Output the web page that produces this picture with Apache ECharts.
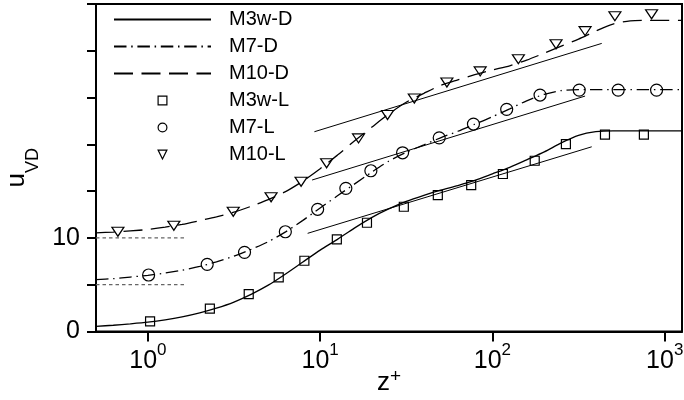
<!DOCTYPE html>
<html>
<head>
<meta charset="utf-8">
<script src="https://cdn.jsdelivr.net/npm/echarts@6/dist/echarts.min.js"></script>
<style>
  html, body { margin: 0; padding: 0; background: #fff; }
  #chart { width: 684px; height: 400px; }
</style>
</head>
<body>
<div id="chart"></div>
<script>
// Wall-unit velocity profiles (van Driest transformed), DNS curves and LES markers.
// M7 profiles are shifted up by 5, M10 profiles by 10.

// DNS profiles, sampled every tenth of a decade in z+
const zDNS = [0.5, 0.63, 0.79, 1, 1.26, 1.58, 2, 2.5, 3.16, 4, 5, 6.3, 7.9, 10, 12.6, 15.8, 20, 25, 31.6, 40,
              50, 63, 79, 100, 126, 158, 200, 251, 316, 398, 501, 631, 794, 1000, 1260];
const uM3wD = [0.55, 0.67, 0.82, 1.0, 1.25, 1.57, 2.0, 2.5, 3.15, 4.0, 4.95, 6.15, 7.4, 8.7, 9.85, 11.05, 12.2, 13.1, 13.9, 14.55,
               15.1, 15.6, 16.15, 16.85, 17.55, 18.35, 19.2, 20.15, 20.95, 21.35, 21.45, 21.45, 21.45, 21.45, 21.45];
const uM7D = [5.55, 5.65, 5.82, 6.0, 6.25, 6.55, 6.95, 7.45, 8.05, 8.8, 9.6, 10.65, 11.85, 13.2, 14.5, 15.75, 17.05, 18.2, 19.15, 19.95,
              20.7, 21.4, 22.15, 22.95, 23.8, 24.65, 25.35, 25.75, 25.85, 25.85, 25.85, 25.85, 25.85, 25.85, 25.85];
const uM10D = [10.55, 10.63, 10.75, 10.9, 11.15, 11.45, 11.85, 12.25, 12.75, 13.4, 14.1, 14.95, 16.05, 17.4, 18.85, 20.35, 21.85, 23.25, 24.5, 25.45,
               26.3, 26.9, 27.45, 27.95, 28.4, 29.0, 29.75, 30.5, 31.25, 32.1, 32.85, 33.2, 33.25, 33.25, 33.25];

// LES profiles
const zM3wL = [1.03, 2.29, 3.85, 5.75, 8.1, 12.5, 18.7, 30.6, 48.2, 75.3, 115, 176, 267, 450, 757];
const uM3wL = [1.09, 2.44, 4.0, 5.79, 7.56, 9.85, 11.62, 13.33, 14.58, 15.65, 16.83, 18.25, 20.03, 21.03, 21.03];

const zM7L = [1.01, 2.21, 3.64, 6.28, 9.67, 14.1, 19.7, 30.1, 49.1, 77.6, 121, 189, 319, 537, 897];
const uM7L = [6.04, 7.18, 8.46, 10.66, 13.06, 15.3, 17.18, 19.1, 20.7, 22.17, 23.74, 25.27, 25.8, 25.8, 25.8];

const zM10L = [0.67, 1.415, 3.13, 5.19, 7.75, 10.9, 16.7, 24.6, 35.2, 54.4, 84.9, 141.5, 234, 345, 514, 839];
const uM10L = [10.66, 11.3, 12.8, 14.34, 16.0, 17.97, 20.64, 23.13, 24.9, 26.6, 27.8, 29.1, 30.7, 32.1, 33.7, 33.9];

// Log-law reference segments (end points)
const zLogLaw = [[8.46, 377], [8.98, 345], [9.26, 431]];
const uLogLaw = [[10.49, 19.74], [16.19, 25.16], [21.35, 30.79]];

// Offset baselines for the shifted profiles
const offsetLevels = [5, 10];
const offsetSpan = [0.5, 1.64];

// Axis ticks and labels
const xTickValues = [1, 10, 100, 1000];
const yLabelValues = [0, 10];

const FONT = '"Liberation Sans", Arial, Helvetica, sans-serif';
const zip = (xs, ys) => xs.map((x, i) => [x, ys[i]]);

function dnsSeries(name, u, dash) {
  return {
    name, type: 'line', data: zip(zDNS, u),
    symbol: 'none', smooth: 0.25,
    lineStyle: { color: '#000', width: 1.3, type: dash },
    itemStyle: { color: '#000' },
    z: 3
  };
}

function lesSeries(name, z, u, symbol, size, rotate) {
  return {
    name, type: 'line', data: zip(z, u),
    symbol, symbolSize: size, symbolRotate: rotate || 0,
    showSymbol: true, showAllSymbol: true,
    lineStyle: { opacity: 0 },
    itemStyle: { color: 'rgba(0,0,0,0)', borderColor: '#000', borderWidth: 1.2 },
    z: 4
  };
}

const series = [
  dnsSeries('M3w-D', uM3wD, 'solid'),
  dnsSeries('M7-D', uM7D, [12.5, 4.7, 1.5, 4.7]),
  dnsSeries('M10-D', uM10D, [19, 8.5]),
  lesSeries('M3w-L', zM3wL, uM3wL, 'rect', 9),
  lesSeries('M7-L', zM7L, uM7L, 'circle', 12),
  lesSeries('M10-L', zM10L, uM10L, 'triangle', [12, 9], 180)
];

zLogLaw.forEach((zs, i) => {
  series.push({
    type: 'line', data: zip(zs, uLogLaw[i]), symbol: 'none',
    lineStyle: { color: '#000', width: 1 }, z: 2, silent: true
  });
});

offsetLevels.forEach(level => {
  series.push({
    type: 'line', data: offsetSpan.map(z => [z, level]), symbol: 'none',
    lineStyle: { color: '#666', width: 1.3, type: [3.5, 3] }, z: 2, silent: true
  });
});

const chart = echarts.init(document.getElementById('chart'), null, { renderer: 'canvas' });

chart.setOption({
  animation: false,
  backgroundColor: '#fff',
  textStyle: { fontFamily: FONT, color: '#000' },
  grid: {
    left: 96, right: 2, top: 4, bottom: 68.5,
    show: true, borderColor: '#000', borderWidth: 2,
    containLabel: false, outerBoundsMode: 'none'
  },
  legend: {
    orient: 'vertical', left: 113, top: 9.5, padding: 0,
    itemWidth: 97, itemHeight: 11, itemGap: 7,
    selectedMode: false,
    textStyle: { fontFamily: FONT, fontSize: 20, color: '#000', lineHeight: 19, padding: [0, 0, 0, 13] },
    itemStyle: { borderWidth: 1.2 },
    data: [
      { name: 'M3w-D', itemStyle: { opacity: 0 } },
      { name: 'M7-D', itemStyle: { opacity: 0 } },
      { name: 'M10-D', itemStyle: { opacity: 0 } },
      { name: 'M3w-L' },
      { name: 'M7-L' },
      { name: 'M10-L' }
    ]
  },
  xAxis: {
    type: 'log', logBase: 10, min: 0.5, max: 1260,
    name: '{a|z}{b|+}', nameLocation: 'middle', nameGap: 36, nameMoveOverlap: false,
    nameTextStyle: {
      rich: {
        a: { fontFamily: FONT, fontSize: 26, lineHeight: 30, color: '#000' },
        b: { fontFamily: FONT, fontSize: 19, lineHeight: 19, verticalAlign: 'top', color: '#000' }
      }
    },
    axisLine: { show: true, onZero: false, lineStyle: { color: '#000', width: 2 } },
    axisTick: { show: true, length: 10, inside: false, customValues: xTickValues, lineStyle: { color: '#000', width: 2 } },
    axisLabel: {
      customValues: xTickValues, margin: 10,
      formatter: v => '{m|10}{e|' + Math.round(Math.log10(v)) + '}',
      rich: {
        m: { fontFamily: FONT, fontSize: 25, lineHeight: 40, color: '#000' },
        e: { fontFamily: FONT, fontSize: 17, lineHeight: 17, verticalAlign: 'top', color: '#000' }
      }
    },
    splitLine: { show: false },
    minorTick: { show: false }
  },
  yAxis: {
    type: 'value', min: 0, max: 35, interval: 5,
    name: '{a|u}{b|VD}', nameLocation: 'middle', nameGap: 60, nameMoveOverlap: false,
    nameTextStyle: {
      rich: {
        a: { fontFamily: FONT, fontSize: 26, lineHeight: 26, padding: [0, 0, 12, 0], color: '#000' },
        b: { fontFamily: FONT, fontSize: 18, lineHeight: 18, padding: [20, 0, 0, 0], color: '#000' }
      }
    },
    axisLine: { show: true, onZero: false, lineStyle: { color: '#000', width: 2 } },
    axisTick: { show: true, length: 9, inside: false, lineStyle: { color: '#000', width: 2 } },
    axisLabel: {
      margin: 16, fontFamily: FONT, fontSize: 25, color: '#000',
      formatter: v => (yLabelValues.indexOf(v) >= 0 ? String(v) : '')
    },
    splitLine: { show: false }
  },
  series
});
</script>
</body>
</html>
